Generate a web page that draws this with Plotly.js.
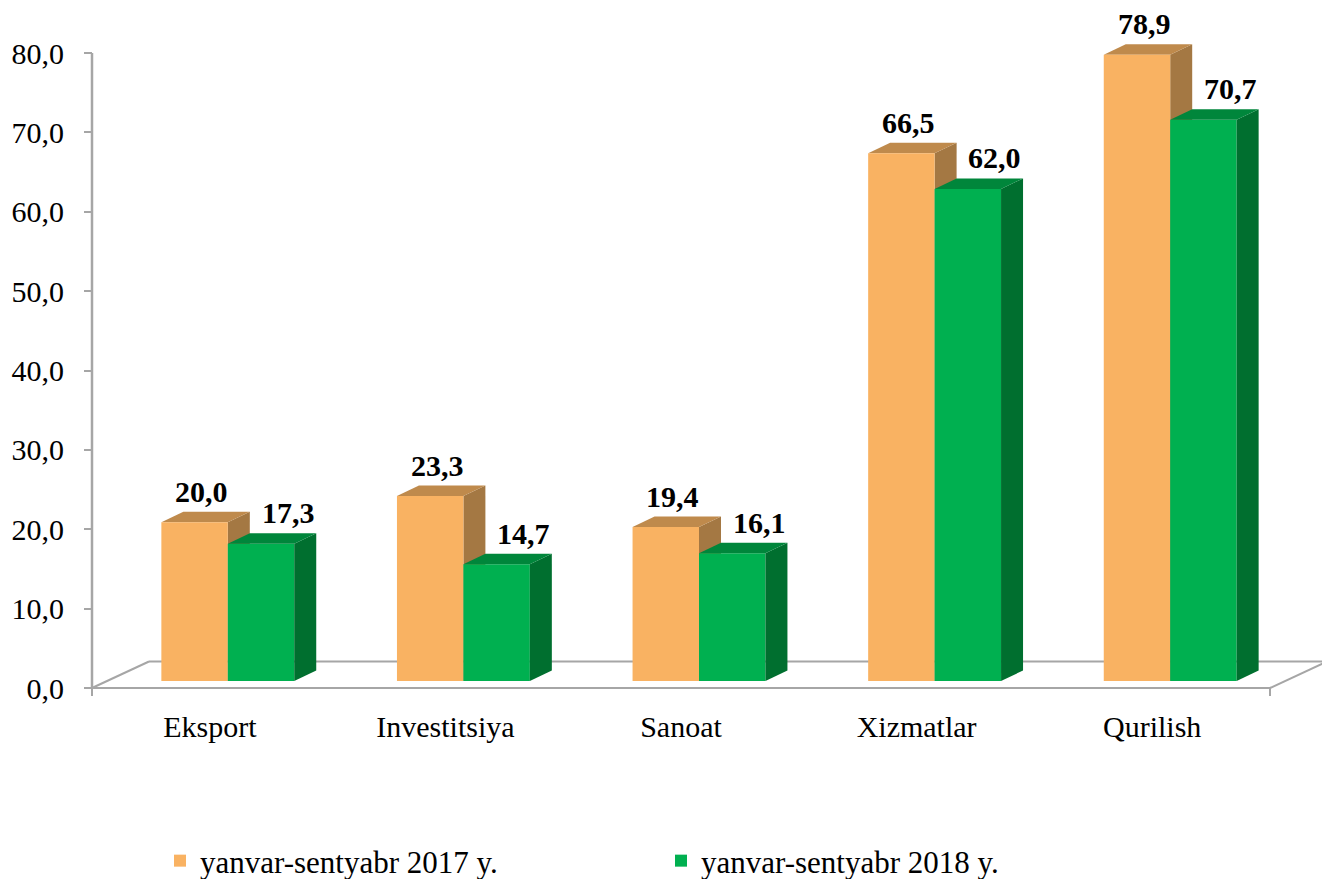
<!DOCTYPE html>
<html>
<head>
<meta charset="utf-8">
<script src="https://cdn.plot.ly/plotly-3.0.1.min.js"></script>
<style>html,body{margin:0;padding:0;background:#fff;}#chart{width:1322px;height:879px;}</style>
</head>
<body>
<div id="chart"></div>
<script>
// ---- data ----
const categories = ['Eksport', 'Investitsiya', 'Sanoat', 'Xizmatlar', 'Qurilish'];
const values2017 = [20.0, 23.3, 19.4, 66.5, 78.9];
const values2018 = [17.3, 14.7, 16.1, 62.0, 70.7];
const seriesNames = ['yanvar-sentyabr 2017 y.', 'yanvar-sentyabr 2018 y.'];
const yTickVals = [0, 10, 20, 30, 40, 50, 60, 70, 80];

// ---- styling / geometry (pixels) ----
const W = 1322, H = 879;
const M = {l: 84, r: 0, t: 10, b: 179};
const plotW = W - M.l - M.r, plotH = H - M.t - M.b;
const axisLeftPx = 8;            // front y-axis line offset inside plot area
const catPx = 235.6;             // px per category
const unitPx = 635 / 80;         // px per value unit
const floorBottomPx = 12;        // px of plot below value 0
const xLo = -0.5 - axisLeftPx / catPx;
const xHi = xLo + plotW / catPx;
const yLo = -floorBottomPx / unitPx;
const yHi = yLo + plotH / unitPx;
// bar plane shift (depth)
const shiftX = 18 / catPx, shiftY = 7 / unitPx;
// bar 3D faces
const dX = 22 / catPx, dY = 10.5 / unitPx;
// floor depth
const fX = 57 / catPx, fY = 26.5 / unitPx;
const barW = 0.282;

const colors = {
  o: {front: '#F9B262', top: '#BF8A4C', side: '#A47843'},
  g: {front: '#00B050', top: '#00863B', side: '#006F2F'}
};
const grey = '#A6A6A6';
const serif = 'Liberation Serif';

const idx = categories.map((c, i) => i);

const traces = [
  {type: 'bar', name: seriesNames[0], x: idx, y: values2017, xaxis: 'x2', yaxis: 'y2',
   width: barW, offset: -barW, marker: {color: colors.o.front, line: {width: 0}}, hoverinfo: 'skip'},
  {type: 'bar', name: seriesNames[1], x: idx, y: values2018, xaxis: 'x2', yaxis: 'y2',
   width: barW, offset: 0, marker: {color: colors.g.front, line: {width: 0}}, hoverinfo: 'skip'}
];

function poly(pts) {
  return 'M' + pts.map(p => p[0] + ',' + p[1]).join(' L') + ' Z';
}
const shapes = [];
// floor
const floorLine = {color: grey, width: 2};
shapes.push({type: 'line', xref: 'x', yref: 'y', x0: -0.5, y0: 0, x1: 4.5, y1: 0, line: floorLine, layer: 'below'});
shapes.push({type: 'line', xref: 'x', yref: 'y', x0: -0.5 + fX, y0: fY, x1: 4.5 + fX, y1: fY, line: floorLine, layer: 'below'});
shapes.push({type: 'line', xref: 'x', yref: 'y', x0: -0.5, y0: 0, x1: -0.5 + fX, y1: fY, line: floorLine, layer: 'below'});
shapes.push({type: 'line', xref: 'x', yref: 'y', x0: 4.5, y0: 0, x1: 4.5 + fX, y1: fY, line: floorLine, layer: 'below'});
// small ticks at the ends of the category axis
[-0.5, 4.5].forEach(xv => shapes.push({type: 'line', xref: 'x', yref: 'y', x0: xv, x1: xv, y0: 0, y1: -8 / unitPx, line: floorLine, layer: 'below'}));
// y-axis line
shapes.push({type: 'line', xref: 'x', yref: 'y', x0: -0.5, y0: 0, x1: -0.5, y1: yTickVals[yTickVals.length - 1], line: {color: grey, width: 2.5}, layer: 'below'});

// 3D faces of bars
idx.forEach(i => {
  const v = values2017[i];
  const x0 = i - barW, x1 = i;
  shapes.push({type: 'path', xref: 'x2', yref: 'y2', layer: 'below', line: {width: 0}, fillcolor: colors.o.side,
    path: poly([[x1, 0], [x1 + dX, dY], [x1 + dX, v + dY], [x1, v]])});
  shapes.push({type: 'path', xref: 'x2', yref: 'y2', layer: 'below', line: {width: 0}, fillcolor: colors.o.top,
    path: poly([[x0, v], [x1, v], [x1 + dX, v + dY], [x0 + dX, v + dY]])});
});
idx.forEach(i => {
  const v = values2018[i];
  const x0 = i, x1 = i + barW;
  shapes.push({type: 'path', xref: 'x2', yref: 'y2', layer: 'above', line: {width: 0}, fillcolor: colors.g.side,
    path: poly([[x1, 0], [x1 + dX, dY], [x1 + dX, v + dY], [x1, v]])});
  shapes.push({type: 'path', xref: 'x2', yref: 'y2', layer: 'above', line: {width: 0}, fillcolor: colors.g.top,
    path: poly([[x0, v], [x1, v], [x1 + dX, v + dY], [x0 + dX, v + dY]])});
});

const fmt = v => v.toFixed(1).replace('.', ',');
const labelFont = {family: serif, size: 30, color: '#000', weight: 'bold'};
const annotations = [];
idx.forEach(i => {
  annotations.push({xref: 'x2', yref: 'y2', x: i - barW / 2 + 0.03, y: values2017[i] + dY, text: fmt(values2017[i]),
    showarrow: false, yanchor: 'bottom', yshift: 2, font: labelFont});
  annotations.push({xref: 'x2', yref: 'y2', x: i + barW / 2 + 0.115, y: values2018[i] + dY, text: fmt(values2018[i]),
    showarrow: false, yanchor: 'bottom', yshift: 2, font: labelFont});
});

const layout = {
  width: W, height: H,
  margin: M,
  paper_bgcolor: '#fff', plot_bgcolor: 'rgba(0,0,0,0)',
  separators: ', ',
  showlegend: true,
  barmode: 'overlay',
  font: {family: serif, color: '#000'},
  xaxis: {range: [xLo, xHi], tickvals: idx, ticktext: categories, showgrid: false, zeroline: false,
    showline: false, ticks: '', tickfont: {family: serif, size: 30, color: '#000'}, ticklabelstandoff: 6,
    automargin: false, fixedrange: true},
  yaxis: {range: [yLo, yHi], tickvals: yTickVals, tickformat: '.1f', showgrid: false, zeroline: false, showline: false,
    anchor: 'free', position: axisLeftPx / plotW, side: 'left',
    ticks: 'outside', ticklen: 8, tickwidth: 2, tickcolor: grey, automargin: false,
    tickfont: {family: serif, size: 30, color: '#000'}, ticklabelstandoff: 14, fixedrange: true},
  xaxis2: {overlaying: 'x', range: [xLo - shiftX, xHi - shiftX], visible: false, fixedrange: true},
  yaxis2: {overlaying: 'y', range: [yLo - shiftY, yHi - shiftY], visible: false, fixedrange: true},
  legend: {orientation: 'h', xref: 'container', yref: 'container',
    x: 160 / W, xanchor: 'left', y: (H - 834) / H, yanchor: 'top',
    font: {family: serif, size: 31, color: '#000'}, entrywidth: 456, entrywidthmode: 'pixels',
    bgcolor: 'rgba(0,0,0,0)', traceorder: 'normal'},
  shapes: shapes,
  annotations: annotations
};

Plotly.newPlot('chart', traces, layout, {displayModeBar: false, staticPlot: true});
</script>
</body>
</html>
